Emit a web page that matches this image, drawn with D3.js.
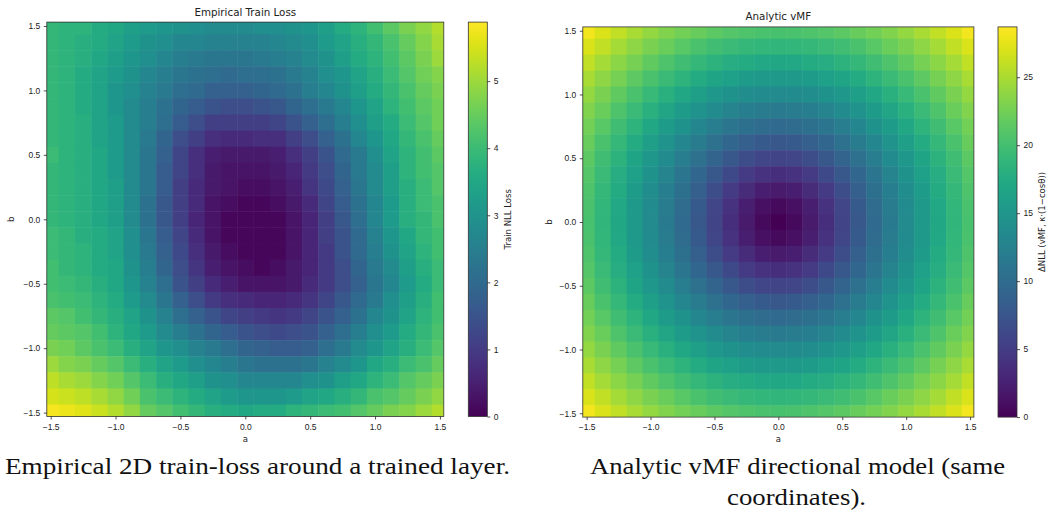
<!DOCTYPE html>
<html>
<head>
<meta charset="utf-8">
<script src="https://cdn.jsdelivr.net/npm/d3@7"></script>
<style>
  body { margin: 0; background: #fff; overflow: hidden; }
  svg { display: block; font-family: "DejaVu Sans", sans-serif; }
  .tick text { font-size: 8.5px; fill: #222; }
  .tick line { stroke: #222; stroke-width: 0.8; }
  .domain { display: none; }
  .title { font-size: 10.3px; fill: #222; }
  .label { font-size: 8.5px; fill: #222; }
  .caption { font-family: "Liberation Serif", serif; font-size: 23px; fill: #111; }
</style>
</head>
<body>
<svg width="1047" height="512"></svg>
<script>
// grid cell centres (a across, b down from the top row)
const aCentres = [-1.5, -1.375, -1.25, -1.125, -1.0, -0.875, -0.75, -0.625, -0.5, -0.375, -0.25, -0.125, 0,
  0.125, 0.25, 0.375, 0.5, 0.625, 0.75, 0.875, 1.0, 1.125, 1.25, 1.375, 1.5];
const bCentres = [1.5, 1.375, 1.25, 1.125, 1.0, 0.875, 0.75, 0.625, 0.5, 0.375, 0.25, 0.125, 0,
  -0.125, -0.25, -0.375, -0.5, -0.625, -0.75, -0.875, -1.0, -1.125, -1.25, -1.375, -1.5];

const axisExtent = [-1.53, 1.53];
const axisTicks = [-1.5, -1.0, -0.5, 0.0, 0.5, 1.0, 1.5];
const lossTicks = [0, 1, 2, 3, 4, 5];
const vmfTicks = [0, 5, 10, 15, 20, 25];
const lossRange = [0, 5.88];
const vmfRange = [0, 28.7];

// empirical train loss (rows = bCentres)
const trainLoss = [
  [3.9, 3.8, 3.8, 3.6, 3.5, 3.3, 3.2, 3.1, 3.0, 2.9, 2.8, 2.8, 2.8, 2.9, 2.9, 3.0, 3.1, 3.3, 3.6, 3.8, 4.1, 4.4, 4.7, 4.9, 5.2],
  [3.9, 3.8, 3.7, 3.6, 3.4, 3.2, 3.0, 2.9, 2.7, 2.7, 2.6, 2.6, 2.6, 2.6, 2.7, 2.8, 2.9, 3.2, 3.4, 3.7, 3.9, 4.2, 4.5, 4.8, 5.1],
  [3.9, 3.8, 3.7, 3.5, 3.3, 3.1, 2.9, 2.7, 2.5, 2.4, 2.3, 2.3, 2.3, 2.4, 2.5, 2.6, 2.8, 3.0, 3.3, 3.6, 3.8, 4.1, 4.4, 4.7, 5.0],
  [3.9, 3.8, 3.6, 3.4, 3.2, 3.0, 2.7, 2.5, 2.3, 2.2, 2.1, 2.0, 2.1, 2.1, 2.2, 2.4, 2.6, 2.9, 3.1, 3.4, 3.7, 4.0, 4.3, 4.6, 4.8],
  [3.9, 3.8, 3.6, 3.4, 3.1, 2.9, 2.6, 2.4, 2.1, 2.0, 1.8, 1.8, 1.8, 1.9, 2.0, 2.2, 2.5, 2.7, 3.0, 3.3, 3.6, 3.9, 4.2, 4.5, 4.7],
  [3.9, 3.8, 3.6, 3.4, 3.1, 2.8, 2.5, 2.2, 1.9, 1.7, 1.5, 1.4, 1.4, 1.5, 1.6, 1.9, 2.1, 2.4, 2.7, 3.1, 3.4, 3.8, 4.1, 4.4, 4.6],
  [3.9, 3.8, 3.7, 3.4, 3.2, 2.8, 2.5, 2.1, 1.7, 1.4, 1.1, 1.1, 1.1, 1.1, 1.2, 1.5, 1.8, 2.1, 2.5, 2.9, 3.3, 3.6, 4.0, 4.3, 4.6],
  [3.9, 3.8, 3.7, 3.4, 3.2, 2.8, 2.4, 1.9, 1.4, 1.1, 0.8, 0.7, 0.7, 0.8, 0.8, 1.1, 1.4, 1.8, 2.2, 2.7, 3.1, 3.5, 3.9, 4.2, 4.5],
  [4.0, 3.8, 3.7, 3.5, 3.2, 2.8, 2.3, 1.8, 1.2, 0.8, 0.5, 0.4, 0.4, 0.4, 0.5, 0.8, 1.1, 1.5, 2.0, 2.4, 2.9, 3.4, 3.8, 4.1, 4.4],
  [3.9, 3.8, 3.7, 3.5, 3.2, 2.8, 2.3, 1.7, 1.2, 0.8, 0.4, 0.3, 0.3, 0.3, 0.4, 0.6, 1.0, 1.4, 1.9, 2.4, 2.8, 3.3, 3.8, 4.1, 4.3],
  [3.9, 3.8, 3.7, 3.5, 3.3, 2.8, 2.3, 1.7, 1.1, 0.7, 0.4, 0.3, 0.2, 0.2, 0.3, 0.5, 0.9, 1.3, 1.8, 2.3, 2.8, 3.3, 3.7, 4.0, 4.3],
  [3.9, 3.8, 3.7, 3.5, 3.3, 2.8, 2.2, 1.6, 1.1, 0.7, 0.3, 0.2, 0.1, 0.1, 0.2, 0.4, 0.7, 1.2, 1.7, 2.2, 2.7, 3.2, 3.7, 4.0, 4.2],
  [3.9, 3.8, 3.7, 3.5, 3.3, 2.8, 2.2, 1.6, 1.1, 0.6, 0.3, 0.1, 0.1, 0.1, 0.1, 0.3, 0.6, 1.1, 1.6, 2.1, 2.7, 3.2, 3.7, 3.9, 4.2],
  [4.0, 3.9, 3.7, 3.6, 3.4, 2.9, 2.3, 1.7, 1.2, 0.7, 0.3, 0.1, 0.1, 0.1, 0.1, 0.3, 0.6, 1.1, 1.5, 2.0, 2.6, 3.1, 3.5, 3.9, 4.1],
  [4.0, 3.9, 3.8, 3.6, 3.4, 2.9, 2.4, 1.8, 1.3, 0.8, 0.4, 0.2, 0.1, 0.1, 0.1, 0.3, 0.6, 1.0, 1.5, 2.0, 2.5, 3.0, 3.4, 3.8, 4.1],
  [4.1, 3.9, 3.8, 3.6, 3.5, 3.0, 2.5, 1.9, 1.4, 0.9, 0.5, 0.3, 0.2, 0.1, 0.2, 0.4, 0.6, 1.0, 1.4, 1.9, 2.4, 2.8, 3.3, 3.7, 4.0],
  [4.1, 4.0, 3.9, 3.7, 3.5, 3.1, 2.6, 2.1, 1.5, 1.1, 0.7, 0.5, 0.3, 0.3, 0.3, 0.4, 0.7, 1.0, 1.4, 1.8, 2.3, 2.7, 3.2, 3.6, 4.0],
  [4.2, 4.1, 4.0, 3.8, 3.6, 3.2, 2.8, 2.3, 1.8, 1.4, 1.0, 0.8, 0.7, 0.6, 0.6, 0.7, 0.9, 1.2, 1.6, 2.0, 2.4, 2.9, 3.3, 3.7, 4.1],
  [4.4, 4.3, 4.1, 3.9, 3.7, 3.4, 3.0, 2.6, 2.1, 1.8, 1.5, 1.2, 1.1, 1.0, 0.9, 1.0, 1.2, 1.5, 1.8, 2.2, 2.7, 3.0, 3.4, 3.8, 4.1],
  [4.5, 4.4, 4.3, 4.1, 3.8, 3.5, 3.2, 2.8, 2.5, 2.2, 1.9, 1.7, 1.5, 1.4, 1.3, 1.4, 1.5, 1.8, 2.1, 2.5, 2.9, 3.2, 3.6, 3.9, 4.2],
  [4.7, 4.6, 4.4, 4.2, 4.0, 3.7, 3.4, 3.1, 2.9, 2.6, 2.4, 2.1, 1.9, 1.8, 1.7, 1.7, 1.8, 2.1, 2.4, 2.8, 3.1, 3.4, 3.7, 4.0, 4.3],
  [5.0, 4.8, 4.7, 4.5, 4.3, 4.0, 3.7, 3.4, 3.2, 2.9, 2.7, 2.5, 2.3, 2.2, 2.2, 2.2, 2.3, 2.6, 2.8, 3.1, 3.5, 3.7, 4.0, 4.2, 4.5],
  [5.3, 5.1, 5.0, 4.8, 4.6, 4.3, 4.0, 3.7, 3.5, 3.3, 3.0, 2.9, 2.7, 2.7, 2.7, 2.7, 2.9, 3.0, 3.3, 3.5, 3.8, 4.0, 4.3, 4.5, 4.7],
  [5.5, 5.4, 5.3, 5.1, 4.9, 4.6, 4.2, 4.0, 3.8, 3.6, 3.4, 3.2, 3.1, 3.1, 3.1, 3.2, 3.4, 3.5, 3.7, 3.9, 4.2, 4.3, 4.5, 4.7, 4.9],
  [5.8, 5.7, 5.6, 5.4, 5.2, 4.9, 4.5, 4.3, 4.1, 3.9, 3.7, 3.6, 3.5, 3.6, 3.6, 3.8, 3.9, 4.0, 4.1, 4.3, 4.5, 4.7, 4.8, 5.0, 5.2]
];

// analytic vMF delta NLL
const vmfLoss = [
  [28.2, 27.1, 26.0, 25.0, 24.1, 23.3, 22.6, 22.0, 21.5, 21.0, 20.7, 20.5, 20.4, 20.5, 20.7, 21.0, 21.5, 22.0, 22.6, 23.3, 24.1, 25.0, 26.0, 27.1, 28.2],
  [27.1, 25.9, 24.8, 23.8, 22.9, 22.1, 21.3, 20.5, 19.9, 19.4, 19.1, 18.9, 18.8, 18.9, 19.1, 19.4, 19.9, 20.5, 21.3, 22.1, 22.9, 23.8, 24.8, 25.9, 27.1],
  [26.0, 24.8, 23.7, 22.7, 21.7, 20.7, 19.9, 19.1, 18.4, 17.9, 17.5, 17.2, 17.1, 17.2, 17.5, 17.9, 18.4, 19.1, 19.9, 20.7, 21.7, 22.7, 23.7, 24.8, 26.0],
  [25.0, 23.8, 22.7, 21.6, 20.5, 19.4, 18.5, 17.6, 16.8, 16.2, 15.7, 15.4, 15.4, 15.4, 15.7, 16.2, 16.8, 17.6, 18.5, 19.4, 20.5, 21.6, 22.7, 23.8, 25.0],
  [24.1, 22.9, 21.7, 20.5, 19.3, 18.2, 17.1, 16.1, 15.3, 14.6, 14.0, 13.7, 13.6, 13.7, 14.0, 14.6, 15.3, 16.1, 17.1, 18.2, 19.3, 20.5, 21.7, 22.9, 24.1],
  [23.3, 22.1, 20.7, 19.4, 18.2, 16.9, 15.7, 14.7, 13.7, 12.9, 12.2, 11.9, 11.7, 11.9, 12.2, 12.9, 13.7, 14.7, 15.7, 16.9, 18.2, 19.4, 20.7, 22.1, 23.3],
  [22.6, 21.3, 19.9, 18.5, 17.1, 15.7, 14.5, 13.2, 12.1, 11.2, 10.5, 10.0, 9.8, 10.0, 10.5, 11.2, 12.1, 13.2, 14.5, 15.7, 17.1, 18.5, 19.9, 21.3, 22.6],
  [22.0, 20.5, 19.1, 17.6, 16.1, 14.7, 13.2, 11.9, 10.6, 9.5, 8.6, 8.0, 7.8, 8.0, 8.6, 9.5, 10.6, 11.9, 13.2, 14.7, 16.1, 17.6, 19.1, 20.5, 22.0],
  [21.5, 19.9, 18.4, 16.8, 15.3, 13.7, 12.1, 10.6, 9.1, 7.8, 6.7, 6.0, 5.8, 6.0, 6.7, 7.8, 9.1, 10.6, 12.1, 13.7, 15.3, 16.8, 18.4, 19.9, 21.5],
  [21.0, 19.4, 17.9, 16.2, 14.6, 12.9, 11.2, 9.5, 7.8, 6.3, 5.0, 4.1, 3.8, 4.1, 5.0, 6.3, 7.8, 9.5, 11.2, 12.9, 14.6, 16.2, 17.9, 19.4, 21.0],
  [20.7, 19.1, 17.5, 15.7, 14.0, 12.2, 10.5, 8.6, 6.7, 5.0, 3.5, 2.4, 2.1, 2.4, 3.5, 5.0, 6.7, 8.6, 10.5, 12.2, 14.0, 15.7, 17.5, 19.1, 20.7],
  [20.5, 18.9, 17.2, 15.4, 13.7, 11.9, 10.0, 8.0, 6.0, 4.1, 2.4, 1.2, 0.7, 1.2, 2.4, 4.1, 6.0, 8.0, 10.0, 11.9, 13.7, 15.4, 17.2, 18.9, 20.5],
  [20.4, 18.8, 17.1, 15.4, 13.6, 11.7, 9.8, 7.8, 5.8, 3.8, 2.1, 0.7, 0.0, 0.7, 2.1, 3.8, 5.8, 7.8, 9.8, 11.7, 13.6, 15.4, 17.1, 18.8, 20.4],
  [20.5, 18.9, 17.2, 15.4, 13.7, 11.9, 10.0, 8.0, 6.0, 4.1, 2.4, 1.2, 0.7, 1.2, 2.4, 4.1, 6.0, 8.0, 10.0, 11.9, 13.7, 15.4, 17.2, 18.9, 20.5],
  [20.7, 19.1, 17.5, 15.7, 14.0, 12.2, 10.5, 8.6, 6.7, 5.0, 3.5, 2.4, 2.1, 2.4, 3.5, 5.0, 6.7, 8.6, 10.5, 12.2, 14.0, 15.7, 17.5, 19.1, 20.7],
  [21.0, 19.4, 17.9, 16.2, 14.6, 12.9, 11.2, 9.5, 7.8, 6.3, 5.0, 4.1, 3.8, 4.1, 5.0, 6.3, 7.8, 9.5, 11.2, 12.9, 14.6, 16.2, 17.9, 19.4, 21.0],
  [21.5, 19.9, 18.4, 16.8, 15.3, 13.7, 12.1, 10.6, 9.1, 7.8, 6.7, 6.0, 5.8, 6.0, 6.7, 7.8, 9.1, 10.6, 12.1, 13.7, 15.3, 16.8, 18.4, 19.9, 21.5],
  [22.0, 20.5, 19.1, 17.6, 16.1, 14.7, 13.2, 11.9, 10.6, 9.5, 8.6, 8.0, 7.8, 8.0, 8.6, 9.5, 10.6, 11.9, 13.2, 14.7, 16.1, 17.6, 19.1, 20.5, 22.0],
  [22.6, 21.3, 19.9, 18.5, 17.1, 15.7, 14.5, 13.2, 12.1, 11.2, 10.5, 10.0, 9.8, 10.0, 10.5, 11.2, 12.1, 13.2, 14.5, 15.7, 17.1, 18.5, 19.9, 21.3, 22.6],
  [23.3, 22.1, 20.7, 19.4, 18.2, 16.9, 15.7, 14.7, 13.7, 12.9, 12.2, 11.9, 11.7, 11.9, 12.2, 12.9, 13.7, 14.7, 15.7, 16.9, 18.2, 19.4, 20.7, 22.1, 23.3],
  [24.1, 22.9, 21.7, 20.5, 19.3, 18.2, 17.1, 16.1, 15.3, 14.6, 14.0, 13.7, 13.6, 13.7, 14.0, 14.6, 15.3, 16.1, 17.1, 18.2, 19.3, 20.5, 21.7, 22.9, 24.1],
  [25.0, 23.8, 22.7, 21.6, 20.5, 19.4, 18.5, 17.6, 16.8, 16.2, 15.7, 15.4, 15.4, 15.4, 15.7, 16.2, 16.8, 17.6, 18.5, 19.4, 20.5, 21.6, 22.7, 23.8, 25.0],
  [26.0, 24.8, 23.7, 22.7, 21.7, 20.7, 19.9, 19.1, 18.4, 17.9, 17.5, 17.2, 17.1, 17.2, 17.5, 17.9, 18.4, 19.1, 19.9, 20.7, 21.7, 22.7, 23.7, 24.8, 26.0],
  [27.1, 25.9, 24.8, 23.8, 22.9, 22.1, 21.3, 20.5, 19.9, 19.4, 19.1, 18.9, 18.8, 18.9, 19.1, 19.4, 19.9, 20.5, 21.3, 22.1, 22.9, 23.8, 24.8, 25.9, 27.1],
  [28.2, 27.1, 26.0, 25.0, 24.1, 23.3, 22.6, 22.0, 21.5, 21.0, 20.7, 20.5, 20.4, 20.5, 20.7, 21.0, 21.5, 22.0, 22.6, 23.3, 24.1, 25.0, 26.0, 27.1, 28.2]
];

const svg = d3.select('svg');
const defs = svg.append('defs');

// matplotlib style tick text, with a real minus sign
const fmt = (d) => d3.format('.1f')(d).replace('-', '\u2212');

function drawPanel(p) {
  const x = d3.scaleLinear().domain(axisExtent).range([p.left, p.right]);
  const y = d3.scaleLinear().domain(axisExtent).range([p.bottom, p.top]);
  const colour = d3.scaleSequential(d3.interpolateViridis).domain(p.range);
  const halfA = (aCentres[1] - aCentres[0]) / 2;
  const halfB = (bCentres[0] - bCentres[1]) / 2;

  defs.append('clipPath').attr('id', p.id + '-clip')
    .append('rect')
    .attr('x', p.left).attr('y', p.top)
    .attr('width', p.right - p.left).attr('height', p.bottom - p.top);

  // flatten the rows into cells
  const cells = [];
  p.grid.forEach((row, k) => row.forEach((v, i) => cells.push({ a: aCentres[i], b: bCentres[k], v: v })));

  svg.append('g')
    .attr('clip-path', `url(#${p.id}-clip)`)
    .selectAll('rect')
    .data(cells)
    .enter()
    .append('rect')
    .attr('x', (d) => x(d.a - halfA))
    .attr('y', (d) => y(d.b + halfB))
    .attr('width', (d) => x(d.a + halfA) - x(d.a - halfA) + 0.5)
    .attr('height', (d) => y(d.b - halfB) - y(d.b + halfB) + 0.5)
    .attr('fill', (d) => colour(d.v));

  // frame
  svg.append('rect')
    .attr('x', p.left).attr('y', p.top)
    .attr('width', p.right - p.left).attr('height', p.bottom - p.top)
    .attr('fill', 'none').attr('stroke', '#333').attr('stroke-width', 0.8);

  svg.append('g')
    .attr('transform', `translate(0, ${p.bottom})`)
    .call(d3.axisBottom(x).tickValues(axisTicks).tickFormat(fmt).tickSize(3).tickPadding(4));

  svg.append('g')
    .attr('transform', `translate(${p.left}, 0)`)
    .call(d3.axisLeft(y).tickValues(axisTicks).tickFormat(fmt).tickSize(3).tickPadding(3.5));

  svg.append('text')
    .attr('class', 'title')
    .attr('x', (p.left + p.right) / 2)
    .attr('y', p.titleY)
    .attr('text-anchor', 'middle')
    .text(p.title);

  svg.append('text')
    .attr('class', 'label')
    .attr('x', (p.left + p.right) / 2)
    .attr('y', 441.5)
    .attr('text-anchor', 'middle')
    .text('a');

  svg.append('text')
    .attr('class', 'label')
    .attr('transform', `translate(${p.bLabelX}, ${(p.top + p.bottom) / 2}) rotate(-90)`)
    .attr('text-anchor', 'middle')
    .text('b');

  // colourbar
  const grad = defs.append('linearGradient')
    .attr('id', p.id + '-grad')
    .attr('x1', 0).attr('y1', 1).attr('x2', 0).attr('y2', 0);
  d3.range(0, 1.0001, 1 / 32).forEach((t) => {
    grad.append('stop').attr('offset', t).attr('stop-color', d3.interpolateViridis(t));
  });

  const cb = d3.scaleLinear().domain(p.range).range([p.bottom, p.top]);
  svg.append('rect')
    .attr('x', p.cbX).attr('y', p.top)
    .attr('width', 19).attr('height', p.bottom - p.top)
    .attr('fill', `url(#${p.id}-grad)`)
    .attr('stroke', '#333').attr('stroke-width', 0.8);

  svg.append('g')
    .attr('transform', `translate(${p.cbX + 19}, 0)`)
    .call(d3.axisRight(cb).tickValues(p.ticks).tickFormat(d3.format('d')).tickSize(3).tickPadding(3.5));

  svg.append('text')
    .attr('class', 'label')
    .attr('transform', `translate(${p.cbLabelX}, ${(p.top + p.bottom) / 2}) rotate(-90)`)
    .attr('text-anchor', 'middle')
    .text(p.cbLabel);
}

drawPanel({
  id: 'emp', grid: trainLoss, range: lossRange, ticks: lossTicks,
  left: 46.8, right: 443.8, top: 22.1, bottom: 416.5, titleY: 15.5,
  title: 'Empirical Train Loss', bLabelX: 13.5,
  cbX: 468.3, cbLabelX: 510.5, cbLabel: 'Train NLL Loss'
});

// right colourbar label sits hard against the page edge
drawPanel({
  id: 'vmf', grid: vmfLoss, range: vmfRange, ticks: vmfTicks,
  left: 582.8, right: 973.9, top: 26.9, bottom: 417.1, titleY: 20,
  title: 'Analytic vMF', bLabelX: 551.5,
  cbX: 998, cbLabelX: 1044.5, cbLabel: '\u0394NLL (vMF, \u03ba\u00b7(1\u2212cos\u03b8))'
});

// captions under the two panels
svg.append('text')
  .attr('class', 'caption')
  .attr('x', 5).attr('y', 474)
  .attr('textLength', 505).attr('lengthAdjust', 'spacingAndGlyphs')
  .text('Empirical 2D train-loss around a trained layer.');

svg.append('text')
  .attr('class', 'caption')
  .attr('x', 590).attr('y', 474)
  .attr('textLength', 415).attr('lengthAdjust', 'spacingAndGlyphs')
  .text('Analytic vMF directional model (same');

svg.append('text')
  .attr('class', 'caption')
  .attr('x', 727).attr('y', 505)
  .attr('textLength', 139).attr('lengthAdjust', 'spacingAndGlyphs')
  .text('coordinates).');
</script>
</body>
</html>
